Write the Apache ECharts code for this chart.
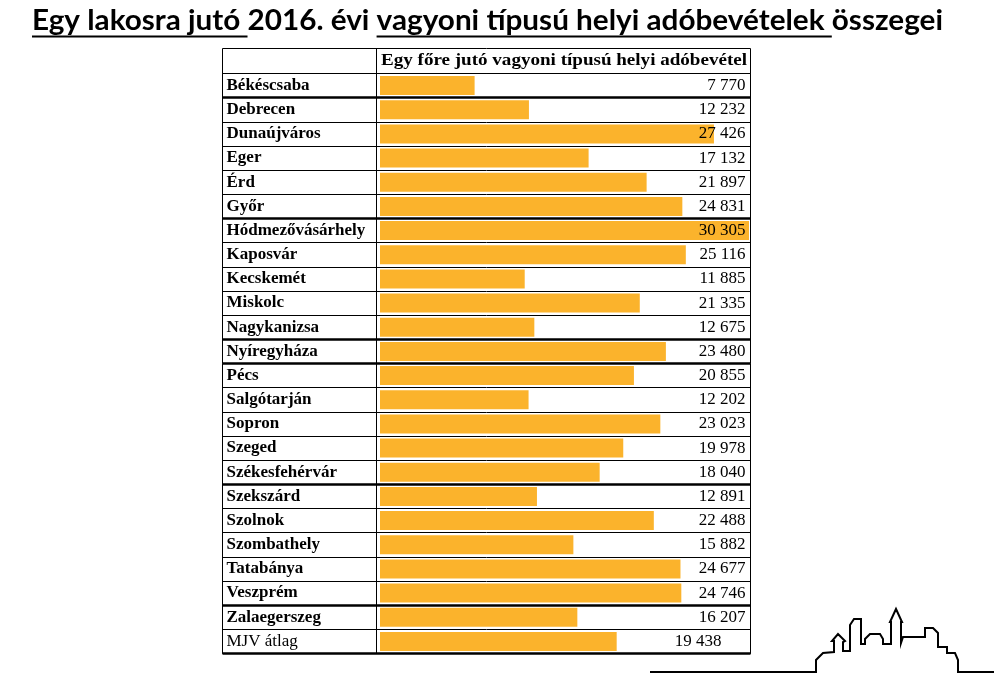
<!DOCTYPE html>
<html>
<head>
<meta charset="utf-8">
<script src="https://cdn.jsdelivr.net/npm/echarts@6/dist/echarts.min.js"></script>
<style>
html,body{margin:0;padding:0;background:#fff;}
#c{width:994px;height:674px;}
</style>
</head>
<body>
<div id="c"></div>
<script>
// ---- data ----
const titleParts = [
  ["Egy lakosra jutó ", true],
  ["2016. évi ", false],
  ["vagyoni típusú helyi adóbevételek ", true],
  ["összegei", false]
];
const headerText = "Egy főre jutó vagyoni típusú helyi adóbevétel";
const cities = ["Békéscsaba","Debrecen","Dunaújváros","Eger","Érd","Győr","Hódmezővásárhely","Kaposvár","Kecskemét","Miskolc","Nagykanizsa","Nyíregyháza","Pécs","Salgótarján","Sopron","Szeged","Székesfehérvár","Szekszárd","Szolnok","Szombathely","Tatabánya","Veszprém","Zalaegerszeg","MJV átlag"];
const values = [7770,12232,27426,17132,21897,24831,30305,25116,11885,21335,12675,23480,20855,12202,23023,19978,18040,12891,22488,15882,24677,24746,16207,19438];
const thickBoundaries = [1,6,11,12,17,22];

// ---- layout / style ----
const GL = 222.5, GR = 750.5, GT = 73.5, GB = 653.5, HT = 48.5, DIV = 376.5;
const BAR0 = 380, BARMAXPX = 749;
const maxVal = Math.max(...values);
const k = (BARMAXPX - BAR0) / maxVal;
const xMin = -(BAR0 - GL) / k;
const xMax = (GR - BAR0) / k;
const serif = "'Liberation Serif','Times New Roman',serif";
const titleFont = "Lato,'Open Sans',sans-serif";

function fmt(v){ return String(v).replace(/\B(?=(\d{3})+(?!\d))/g, ' '); }

const cv = document.createElement('canvas').getContext('2d');
// title: scaled horizontally to span the reference width
const fullTitle = titleParts.map(p=>p[0]).join('');
const TX0 = 32, TX1 = 943, TSIZE = 28, TY = 21;
cv.font = "bold " + TSIZE + "px " + titleFont;
const tScale = (TX1 - TX0) / cv.measureText(fullTitle).width;
const titleGraphics = [{
  type:'text', x: TX0, y: TY, scaleX: tScale,
  style:{text: fullTitle, x:0, y:0, verticalAlign:'middle', font: "bold " + TSIZE + "px " + titleFont, fill:'#000'}
}];
let acc = '';
titleParts.forEach(p=>{
  const x0 = TX0 + tScale * cv.measureText(acc).width;
  acc += p[0];
  const x1 = TX0 + tScale * cv.measureText(acc).width;
  if (p[1]) titleGraphics.push({type:'line', shape:{x1:x0,y1:36.5,x2:x1,y2:36.5}, style:{stroke:'#000',lineWidth:2}});
});
// header cell text
const HX0 = 381, HX1 = 747, HSIZE = 17;
cv.font = "bold " + HSIZE + "px " + serif;
const hScale = (HX1 - HX0) / cv.measureText(headerText).width;

const skyline = [[650,672],[816,672],[816,660],[823,653],[834,652],[834,641],[832,641],[838,634],[845,641],[843,642],[843,651],[850,651],[850,625],[854,619],[861,619],[861,644],[865,644],[865,639],[870,634],[880,634],[883,639],[883,644],[891,644],[891,622],[890,622],[896,609],[902,622],[901,622],[901,643],[903,637],[923,637],[925,637],[925,628],[933,628],[938,633],[938,647],[947,647],[947,653],[955,653],[958,660],[958,672],[994,672]];

const chart = echarts.init(document.getElementById('c'), null, {renderer:'canvas'});
chart.setOption({
  animation:false,
  backgroundColor:'#fff',
  grid:{left:GL, top:GT, width:GR-GL, height:GB-GT, show:true, borderColor:'#000', borderWidth:1, containLabel:false},
  xAxis:{type:'value', min:xMin, max:xMax, show:false},
  yAxis:[{
    type:'category', inverse:true, data:cities, position:'left',
    axisLine:{show:false}, axisTick:{show:false},
    splitLine:{show:true, lineStyle:{color:'#000', width:1}},
    axisLabel:{inside:true, margin:4, align:'left',
      formatter:(v,i)=> i===cities.length-1 ? '{n|'+v+'}' : '{b|'+v+'}',
      rich:{b:{fontFamily:serif, fontWeight:'bold', fontSize:17, color:'#000'},
            n:{fontFamily:serif, fontWeight:'normal', fontSize:17, color:'#000'}}}
  },{
    type:'category', inverse:true, data:cities, position:'right', z:5,
    axisLine:{show:false}, axisTick:{show:false},
    splitLine:{show:true, interval:(i)=>thickBoundaries.indexOf(i)>=0, lineStyle:{color:'#000', width:2.5}},
    axisLabel:{inside:true, margin:5, align:'right',
      formatter:(v,i)=> i===cities.length-1 ? '{m|'+fmt(values[i])+'}' : '{v|'+fmt(values[i])+'}',
      rich:{v:{fontFamily:serif, fontSize:17, color:'#000'},
            m:{fontFamily:serif, fontSize:17, color:'#000', padding:[0,24,0,0]}}}
  }],
  series:[{
    type:'bar', data:values, yAxisIndex:0, barWidth:19,
    itemStyle:{color:'#FBB32C'}, z:1
  }],
  graphic: titleGraphics.concat([
    {type:'rect', shape:{x:GL, y:HT, width:GR-GL, height:GT-HT}, style:{fill:'none', stroke:'#000', lineWidth:1}},
    {type:'line', shape:{x1:DIV, y1:HT, x2:DIV, y2:GB}, style:{stroke:'#000', lineWidth:1}},
    {type:'text', x:HX0, y:61, scaleX:hScale, style:{text:headerText, x:0, y:0, verticalAlign:'middle', font:"bold "+HSIZE+"px "+serif, fill:'#000'}},
    {type:'polyline', shape:{points:skyline}, style:{stroke:'#000', lineWidth:2, fill:'none'}}
  ])
});
</script>
</body>
</html>
